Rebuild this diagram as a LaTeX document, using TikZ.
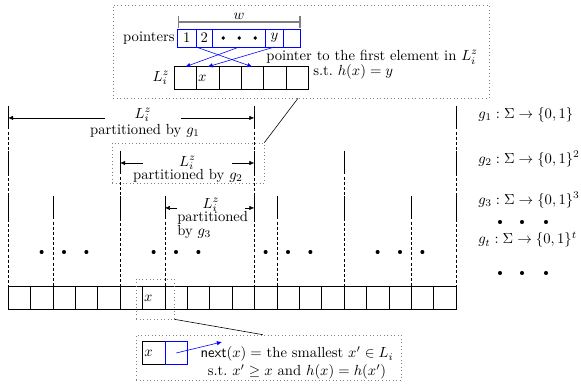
\documentclass[tikz,border=0pt]{standalone}
\usepackage{amsmath,amssymb}
\usetikzlibrary{arrows.meta, positioning, fit, calc}

\begin{document}
\begin{tikzpicture}[
    x=0.024cm, y=-0.024cm,
    cell/.style={draw, minimum width=15.3pt, minimum height=15.3pt, inner sep=0pt, outer sep=0pt},
    ptrcell/.style={cell, draw=blue, minimum width=11.8pt, minimum height=12.3pt},
    xmark/.style={anchor=west, inner sep=1pt},
    zoombox/.style={draw=gray, dotted, inner sep=0pt},
    sepline/.style={dash pattern=on 2pt off 1.5pt},
    spanarrow/.style={-{Latex[length=3.5pt, width=3pt]}},
    ptr/.style={-{Latex[length=3.5pt, width=3pt]}, blue},
    hashlabel/.style={anchor=west, inner sep=0pt},
]
\useasboundingbox (0,0) rectangle (581,388);

% ======== ARRAY (bottom) ========
\foreach \i in {1,...,20}
    \node[cell] (a\i) at ({8+22.4*(\i-0.5)},298) {};
\node[xmark] (ax) at (a7.west) {$x$};

% separators, dashed down to the array
\foreach \c/\top in {a1.north west/106, a11.north east/106, a20.north east/106,
                     a5.north east/151, a15.north east/151,
                     a2.north east/196, a7.north east/196, a12.north east/196, a18.north east/196}
    \draw[sepline] (\c |- 0,\top) -- (\c);
% solid ticks in each band
\foreach \c in {a1.north west, a11.north east, a20.north east}
    \draw (\c |- 0,106) -- ++(0,20);
\foreach \c in {a1.north west, a5.north east, a11.north east, a15.north east, a20.north east}
    \draw (\c |- 0,151) -- ++(0,23);
\foreach \c in {a1.north west, a2.north east, a5.north east, a7.north east, a11.north east,
                a12.north east, a15.north east, a18.north east, a20.north east}
    \draw (\c |- 0,196) -- ++(0,23);

% dots
\foreach \i in {2,3,4,7,8,9,12,13,14,17,18,19}
    \fill (a\i |- 0,252) circle[radius=1.4pt];

% ======== PARTITIONS ========
\node[inner sep=0pt] (lz1) at (143,115) {$L_i^z$};
\node (pb1) at (145,131) {partitioned by $g_1$};
\draw[spanarrow, shorten <=26pt] ([yshift=-2pt]lz1.center) -- ([yshift=-2pt]lz1.center -| a1.north west);
\draw[spanarrow, shorten <=26pt] ([yshift=-2pt]lz1.center) -- ([yshift=-2pt]lz1.center -| a11.north east);

\node[inner sep=0pt] (lz2) at (187.5,163) {$L_i^z$};
\node (pb2) at (188,176) {partitioned by $g_2$};
\draw[spanarrow, shorten <=30.5pt] (lz2.center) -- (lz2.center -| a5.north east);
\draw[spanarrow, shorten <=30.5pt] (lz2.center) -- (lz2.center -| a11.north east);
\node[zoombox, fit={(112,143) (264,183)}] (z2box) {};

\node[inner sep=0pt] (lz3) at (211,205) {$L_i^z$};
\node[anchor=west, align=left, inner sep=0pt] (pb3) at (177,225) {partitioned\\[-3pt]by $g_3$};
\draw[spanarrow, shorten <=23pt] ([yshift=-2pt]lz3.center) -- ([yshift=-2pt]lz3.center -| a7.north east);
\draw[spanarrow, shorten <=23pt] ([yshift=-2pt]lz3.center) -- ([yshift=-2pt]lz3.center -| a11.north east);

% hash functions on the right
\node[hashlabel] (h1) at (478,115) {$g_1 : \Sigma \rightarrow \{0,1\}$};
\node[hashlabel] (h2) at (478,159) {$g_2 : \Sigma \rightarrow \{0,1\}^2$};
\node[hashlabel] (h3) at (478,200) {$g_3 : \Sigma \rightarrow \{0,1\}^3$};
\node[hashlabel] (ht) at (478,240) {$g_t : \Sigma \rightarrow \{0,1\}^t$};
\foreach \x in {500,522,546} {
    \fill (\x,222) circle[radius=1.4pt];
    \fill (\x,273) circle[radius=1.4pt];
}

% ======== POINTER TABLE (top) ========
\node[ptrcell, minimum width=12.5pt] (p1) at (186.9,38) {1};
\node[ptrcell, minimum width=11.4pt, right=0pt of p1] (p2) {2};
\node[ptrcell, minimum width=36.2pt, right=0pt of p2] (pdots) {};
\foreach \dx in {-16,0,16}
    \fill ([xshift=\dx*0.683pt]pdots.center) circle[radius=1.3pt];
\node[ptrcell, minimum width=12pt, right=0pt of pdots] (py) {$y$};
\node[ptrcell, right=0pt of py] (plast) {};
\node[left=1pt of p1, inner sep=1pt] (plabel) {pointers};
\draw[gray, thick, {Bar[width=8pt]}-{Bar[width=8pt]}] (p1.north west |- 0,22) -- node[above, inner sep=1.5pt, text=black] (wlabel) {$w$} (plast.north east |- 0,22);

\node[cell] (c1) at (185.2,78) {};
\foreach \i [remember=\i as \prev (initially 1)] in {2,...,6}
    \node[cell, right=0pt of c\prev] (c\i) {};
\node[xmark] (cx) at (c2.west) {$x$};
\node[left=3pt of c1, inner sep=0pt] (lzrow) {$L_i^z$};

\draw[ptr] (p2.south west) -- (c4.north);
\draw[ptr] (pdots.south) -- (c1.north);
\draw[ptr] (py.south) -- (c2.north);

\node[anchor=west, inner sep=0pt] (ptxt1) at (266,57) {pointer to the first element in $L_i^z$};
\node[anchor=west, inner sep=0pt] (ptxt2) at (313,72) {s.t.\ $h(x)=y$};

\node[zoombox, fit={(113,5) (489,98)}] (topbox) {};
\draw ($(topbox.south west)!0.492!(topbox.south east)$) -- (z2box.north east);

% ======== NEXT POINTER (bottom) ========
\node[zoombox, fit={(136,279) (174,319)}] (xbox) {};
\node[zoombox, fit={(136,335) (401,380)}] (nbox) {};
\draw (xbox.south east) -- ($(nbox.north west)!0.479!(nbox.north east)$);

\node[cell] (nx) at (153.8,353) {};
\node[xmark] (nxl) at (nx.west) {$x$};
\node[cell, draw=blue, right=0pt of nx] (nb) {};
\coordinate (ntip) at (222,342);
\draw[ptr] (nb.center) -- (ntip);
\node[align=center] (ntext) at (297,363) {$\mathsf{next}(x) =$ the smallest $x' \in L_i$\\s.t.\ $x' \geq x$ and $h(x) = h(x')$};

\end{tikzpicture}
\end{document}
